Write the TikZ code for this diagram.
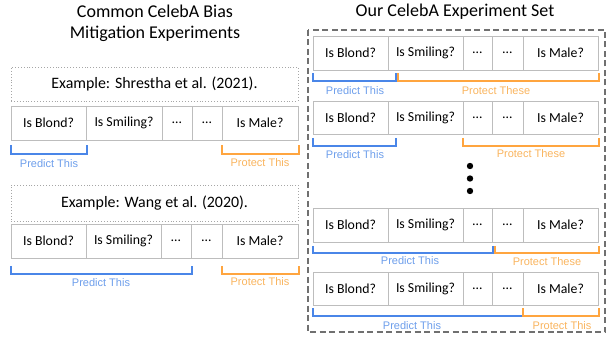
\documentclass[tikz,border=0pt]{standalone}
\usepackage{fontspec}
\setmainfont{Carlito}
\newfontfamily\arialf{Liberation Sans}
\definecolor{bline}{HTML}{4A86E8}
\definecolor{btext}{HTML}{6D9EEB}
\definecolor{oline}{HTML}{FFA53F}
\definecolor{otext}{HTML}{F9B45E}
\definecolor{cellgray}{HTML}{BDBDBD}
\definecolor{boxgray}{HTML}{707070}
\tikzset{
  cell/.style={draw=cellgray, line width=0.9pt, inner sep=0pt, font=\fontsize{13.8}{15}\selectfont},
  brkblue/.style={draw=bline, line width=2pt},
  brkorange/.style={draw=oline, line width=2pt},
  lblblue/.style={text=btext, font=\arialf\fontsize{11}{12}\selectfont, inner sep=0pt},
  lblorange/.style={text=otext, font=\arialf\fontsize{11}{12}\selectfont, inner sep=0pt},
  exbox/.style={draw=gray!70, dotted, line width=0.9pt, inner sep=0pt, font=\fontsize{15.9}{17}\selectfont},
  ttl/.style={font=\fontsize{18}{21}\selectfont, align=center, inner sep=0pt},
}
% #1 prefix, #2..#7 x borders, #8 y top, #9 y bottom
\newcommand\attrrow[9]{%
  \node[cell, minimum width={(#3-#2)*1pt}, minimum height={(#9-#8)*1pt}] (#1a) at ({(#2+#3)/2},{(#8+#9)/2}) {Is Blond?};
  \node[cell, minimum width={(#4-#3)*1pt}, minimum height={(#9-#8)*1pt}] (#1b) at ({(#3+#4)/2},{(#8+#9)/2}) {Is Smiling?};
  \node[cell, minimum width={(#5-#4)*1pt}, minimum height={(#9-#8)*1pt}] (#1c) at ({(#4+#5)/2},{(#8+#9)/2}) {\dots};
  \node[cell, minimum width={(#6-#5)*1pt}, minimum height={(#9-#8)*1pt}] (#1d) at ({(#5+#6)/2},{(#8+#9)/2}) {\dots};
  \node[cell, minimum width={(#7-#6)*1pt}, minimum height={(#9-#8)*1pt}] (#1e) at ({(#6+#7)/2},{(#8+#9)/2}) {Is Male?};
}
% #1 style, #2 x1, #3 x2, #4 ytop, #5 ybottom
\newcommand\brk[5]{\draw[#1] (#2,#4) -- (#2,#5) -- (#3,#5) -- (#3,#4);}
\begin{document}
\begin{tikzpicture}[x=1pt,y=-1pt]
\useasboundingbox (0,0) rectangle (608,339);
% titles
\node[ttl] (tl) at (155,23.5) {Common CelebA Bias\\Mitigation Experiments};
\node[ttl] (tr) at (455,12) {Our CelebA Experiment Set};
% left examples
\node[exbox, minimum width=287pt, minimum height=34pt] (ex1) at (154.5,84) {Example: Shrestha et al. (2021).};
\attrrow{la}{11}{86}{162}{192}{222}{298}{106}{140}
\brk{brkblue}{11}{87}{145}{154}
\node[lblblue] (lap) at (49,164) {Predict This};
\brk{brkorange}{222}{299}{145}{154}
\node[lblorange] (lao) at (260,163) {Protect This};

\node[exbox, minimum width=287pt, minimum height=36pt] (ex2) at (154.5,203) {Example: Wang et al. (2020).};
\attrrow{lb}{11}{86}{161}{191}{222}{298}{224}{258}
\brk{brkblue}{11}{192}{266}{274}
\node[lblblue] (lbp) at (101,283) {Predict This};
\brk{brkorange}{222}{299}{266}{274}
\node[lblorange] (lbo) at (260,282) {Protect This};

% right set
\draw[draw=boxgray, line width=1.8pt, dash pattern=on 6pt off 3.5pt] (308,30) rectangle (605,332);
\attrrow{ra}{313}{388}{463}{492}{523}{598}{36}{70}
\brk{brkblue}{313}{396}{73}{81}
\node[lblblue] (rap) at (355,91) {Predict This};
\brk{brkorange}{398}{599}{73}{81}
\node[lblorange] (rao) at (496,91) {Protect These};

\attrrow{rb}{313}{388}{463}{492}{523}{598}{101}{134}
\brk{brkblue}{313}{396}{138}{146}
\node[lblblue] (rbp) at (355,155) {Predict This};
\brk{brkorange}{463}{599}{138}{146}
\node[lblorange] (rbo) at (531,154) {Protect These};

\fill (470,166) circle (3.2);
\fill (470,178.5) circle (3.2);
\fill (470,191) circle (3.2);

\attrrow{rc}{313}{388}{463}{492}{523}{598}{208}{242}
\brk{brkblue}{313}{493}{246}{253}
\node[lblblue] (rcp) at (410,261) {Predict This};
\brk{brkorange}{495}{599}{246}{253}
\node[lblorange] (rco) at (547,262) {Protect These};

\attrrow{rd}{313}{388}{463}{492}{523}{598}{272}{305}
\brk{brkblue}{313}{523}{308}{316}
\node[lblblue] (rdp) at (412,326) {Predict This};
\brk{brkorange}{523}{599}{308}{316}
\node[lblorange] (rdo) at (562,326) {Protect This};
\end{tikzpicture}
\end{document}
